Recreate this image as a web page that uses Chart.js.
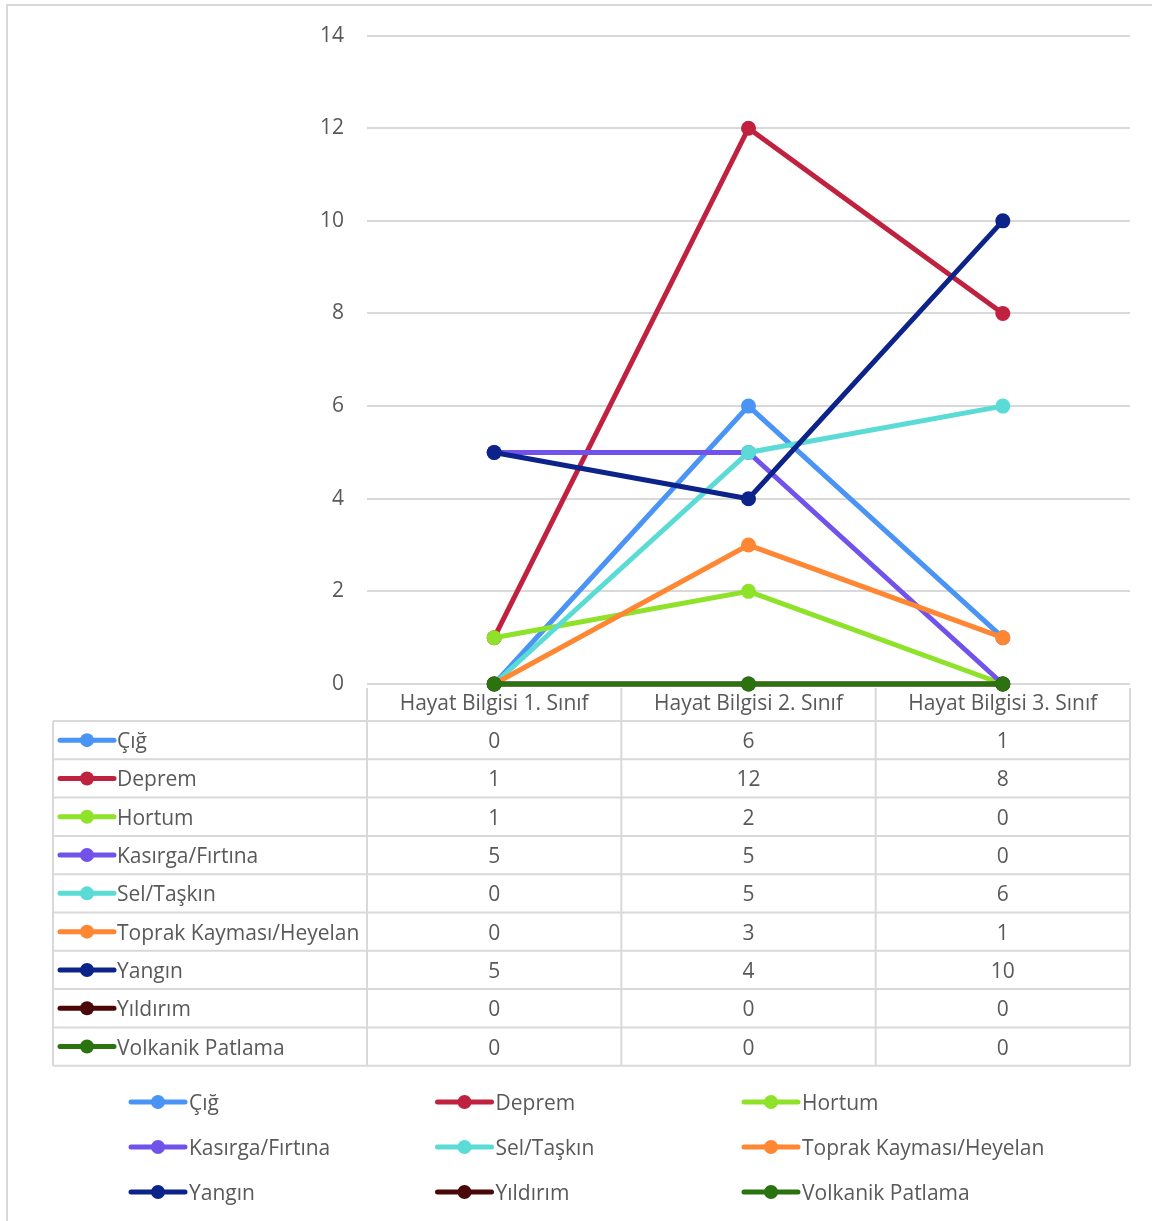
<!DOCTYPE html>
<html>
<head>
<meta charset="utf-8">
<script src="https://cdn.jsdelivr.net/npm/chart.js@4/dist/chart.umd.min.js"></script>
<style>
  html, body { margin: 0; padding: 0; background: #fff; }
  #wrap { width: 1152px; height: 1221px; }
</style>
</head>
<body>
<div id="wrap"><canvas id="afetChart" width="1152" height="1221"></canvas></div>
<script>
var categories = ['Hayat Bilgisi 1. Sınıf', 'Hayat Bilgisi 2. Sınıf', 'Hayat Bilgisi 3. Sınıf'];
var seriesNames = ['Çığ', 'Deprem', 'Hortum', 'Kasırga/Fırtına', 'Sel/Taşkın',
                   'Toprak Kayması/Heyelan', 'Yangın', 'Yıldırım', 'Volkanik Patlama'];
var cig       = [0, 6, 1];
var deprem    = [1, 12, 8];
var hortum    = [1, 2, 0];
var kasirga   = [5, 5, 0];
var sel       = [0, 5, 6];
var toprak    = [0, 3, 1];
var yangin    = [5, 4, 10];
var yildirim  = [0, 0, 0];
var volkanik  = [0, 0, 0];
var seriesValues = [cig, deprem, hortum, kasirga, sel, toprak, yangin, yildirim, volkanik];
var colors = ['#4A94F5', '#C0213F', '#8FE22A', '#7152EA', '#5ADBD5',
              '#FF8733', '#0C2389', '#4A0808', '#2A730F'];

var FONT = '"Open Sans", "Noto Sans", sans-serif';
var FSIZE = 21;
var TEXT = '#595959';
var LINE = '#d9d9d9';

var datasets = seriesNames.map(function (name, i) {
    return {
        label: name,
        data: seriesValues[i],
        borderColor: colors[i],
        backgroundColor: colors[i],
        borderWidth: 5,
        pointRadius: 7.5,
        pointHoverRadius: 7.5,
        pointBorderWidth: 0,
        order: seriesNames.length - i,
        clip: false,
        tension: 0
    };
});

function drawKey(ctx, x, y, color) {
    ctx.save();
    ctx.strokeStyle = color;
    ctx.lineWidth = 5;
    ctx.lineCap = 'round';
    ctx.beginPath();
    ctx.moveTo(x, y);
    ctx.lineTo(x + 54, y);
    ctx.stroke();
    ctx.fillStyle = color;
    ctx.beginPath();
    ctx.arc(x + 27, y, 7, 0, Math.PI * 2);
    ctx.fill();
    ctx.restore();
}

var tablePlugin = {
    id: 'dataTable',
    beforeDraw: function (chart) {
        var ctx = chart.ctx;
        ctx.save();
        ctx.strokeStyle = LINE;
        ctx.lineWidth = 2;
        ctx.beginPath();
        ctx.moveTo(7, chart.height);
        ctx.lineTo(7, 5);
        ctx.lineTo(chart.width, 5);
        ctx.stroke();
        ctx.restore();
    },
    afterDraw: function (chart) {
        var ctx = chart.ctx;
        var area = chart.chartArea;
        var xs = chart.scales.x;
        var colW = (area.right - area.left) / categories.length;
        var tableLeft = 53;
        var headTop = area.bottom;
        var rowTop = 721;
        var rowH = 38.3;
        var tableBottom = rowTop + rowH * seriesNames.length;

        ctx.save();
        ctx.strokeStyle = LINE;
        ctx.lineWidth = 2;
        ctx.beginPath();
        // top of the header is the zero gridline, so start at the verticals
        for (var c = 0; c <= categories.length; c++) {
            var vx = area.left + c * colW;
            ctx.moveTo(vx, headTop + 4);
            ctx.lineTo(vx, tableBottom);
        }
        ctx.moveTo(tableLeft, rowTop);
        ctx.lineTo(tableLeft, tableBottom);
        for (var r = 0; r <= seriesNames.length; r++) {
            var hy = rowTop + r * rowH;
            ctx.moveTo(tableLeft, hy);
            ctx.lineTo(area.right, hy);
        }
        ctx.stroke();

        ctx.font = FSIZE + 'px ' + FONT;
        ctx.fillStyle = TEXT;
        ctx.textBaseline = 'middle';
        ctx.textAlign = 'center';
        categories.forEach(function (cat, i) {
            ctx.fillText(cat, xs.getPixelForValue(i), (headTop + rowTop) / 2 + 2);
        });
        seriesNames.forEach(function (name, s) {
            var cy = rowTop + (s + 0.5) * rowH;
            drawKey(ctx, 60, cy, colors[s]);
            ctx.fillStyle = TEXT;
            ctx.textAlign = 'left';
            ctx.fillText(name, 117, cy + 2);
            ctx.textAlign = 'center';
            seriesValues[s].forEach(function (v, i) {
                ctx.fillText(String(v), xs.getPixelForValue(i), cy + 2);
            });
        });

        // legend, three columns
        seriesNames.forEach(function (name, s) {
            var lx = 131 + (s % 3) * 306.5;
            var ly = 1102 + Math.floor(s / 3) * 45;
            drawKey(ctx, lx, ly, colors[s]);
            ctx.fillStyle = TEXT;
            ctx.textAlign = 'left';
            ctx.fillText(name, lx + 58, ly + 2);
        });
        ctx.restore();
    }
};

var ctx = document.getElementById('afetChart').getContext('2d');
var afetChart = new Chart(ctx, {
    type: 'line',
    data: { labels: categories, datasets: datasets },
    plugins: [tablePlugin],
    options: {
        responsive: false,
        animation: false,
        layout: { padding: { top: 35, right: 22, bottom: 537, left: 0 } },
        plugins: {
            legend: { display: false },
            tooltip: { enabled: false }
        },
        scales: {
            x: {
                display: false,
                offset: true
            },
            y: {
                min: 0,
                max: 14,
                afterFit: function (scale) { scale.width = 367; },
                ticks: {
                    stepSize: 2,
                    padding: 23,
                    color: TEXT,
                    font: { family: FONT, size: FSIZE }
                },
                grid: { color: LINE, lineWidth: 2, drawTicks: false },
                border: { display: false }
            }
        }
    }
});
</script>
</body>
</html>
